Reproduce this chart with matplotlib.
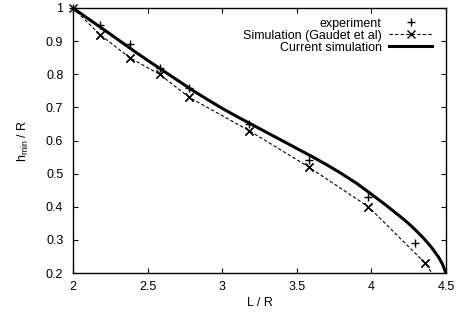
import numpy as np
import matplotlib
matplotlib.use('Agg')
import matplotlib.pyplot as plt

plt.rcParams['font.family'] = ['Liberation Sans', 'DejaVu Sans']
plt.rcParams['mathtext.default'] = 'regular'

# experiment (+ markers)
exp_x = [2.0, 2.18, 2.38, 2.58, 2.78, 3.18, 3.58, 3.98, 4.29]
exp_y = [1.0, 0.95, 0.89, 0.82, 0.76, 0.65, 0.54, 0.43, 0.29]

# Simulation (Gaudet et al), last point falls below the frame
gaudet_x = [2.0, 2.18, 2.38, 2.58, 2.78, 3.18, 3.58, 3.98, 4.36, 4.45]
gaudet_y = [1.0, 0.92, 0.85, 0.80, 0.73, 0.63, 0.52, 0.40, 0.23, 0.17]

# Current simulation
cur_x = [2.0, 2.1, 2.2, 2.3, 2.4, 2.5, 2.6, 2.7, 2.8, 2.9, 3.0, 3.1, 3.2, 3.3,
         3.4, 3.5, 3.6, 3.7, 3.8, 3.9, 4.0, 4.1, 4.2, 4.25, 4.3, 4.35, 4.4,
         4.45, 4.475, 4.5]
cur_y = [1.0, 0.968, 0.937, 0.905, 0.873, 0.842, 0.812, 0.782, 0.752, 0.724,
         0.697, 0.672, 0.648, 0.624, 0.600, 0.576, 0.552, 0.527, 0.500, 0.471,
         0.438, 0.404, 0.368, 0.349, 0.328, 0.305, 0.279, 0.248, 0.228, 0.20]

fig = plt.figure(figsize=(4.6, 3.18), dpi=100)
ax = fig.add_axes([73 / 460, 1 - 273 / 318, 373 / 460, 265 / 318])

ax.plot(exp_x, exp_y, linestyle='none', marker='+', color='black',
        markersize=6, markeredgewidth=1.0, clip_on=False, zorder=3,
        label='experiment')
# dashed line is clipped by the frame, markers inside it are not
ax.plot(gaudet_x, gaudet_y, linestyle=(0, (3, 2)), linewidth=0.8, color='black',
        marker='x', markersize=6, markeredgewidth=1.0,
        label='Simulation (Gaudet et al)')
ax.plot(gaudet_x[:-1], gaudet_y[:-1], linestyle='none', color='black',
        marker='x', markersize=6, markeredgewidth=1.0, clip_on=False, zorder=3)
ax.plot(cur_x, cur_y, color='black', linewidth=2.2, label='Current simulation')

ax.set_xlim(2, 4.5)
ax.set_ylim(0.2, 1.0)
ax.set_xticks([2, 2.5, 3, 3.5, 4, 4.5])
ax.set_xticklabels(['2', '2.5', '3', '3.5', '4', '4.5'])
ax.set_yticks([0.2, 0.3, 0.4, 0.5, 0.6, 0.7, 0.8, 0.9, 1.0])
ax.set_yticklabels(['0.2', '0.3', '0.4', '0.5', '0.6', '0.7', '0.8', '0.9', '1'])
ax.tick_params(direction='in', length=3.6, width=0.8, top=True, right=True,
               labelsize=9, color='black')
ax.tick_params(axis='y', pad=7)
ax.tick_params(axis='x', pad=6)
for s in ax.spines.values():
    s.set_linewidth(1.0)

ax.set_xlabel('L / R', fontsize=9, labelpad=3)
ax.set_ylabel(r'h$_{min}$ / R', fontsize=9, labelpad=11)

ax.legend(loc='upper right', bbox_to_anchor=(0.962, 0.963), frameon=False,
          markerfirst=False, fontsize=9, handlelength=3.4, handletextpad=0.6,
          labelspacing=0.0, borderpad=0.0, borderaxespad=0.0)

fig.savefig('out.png', dpi=100)
